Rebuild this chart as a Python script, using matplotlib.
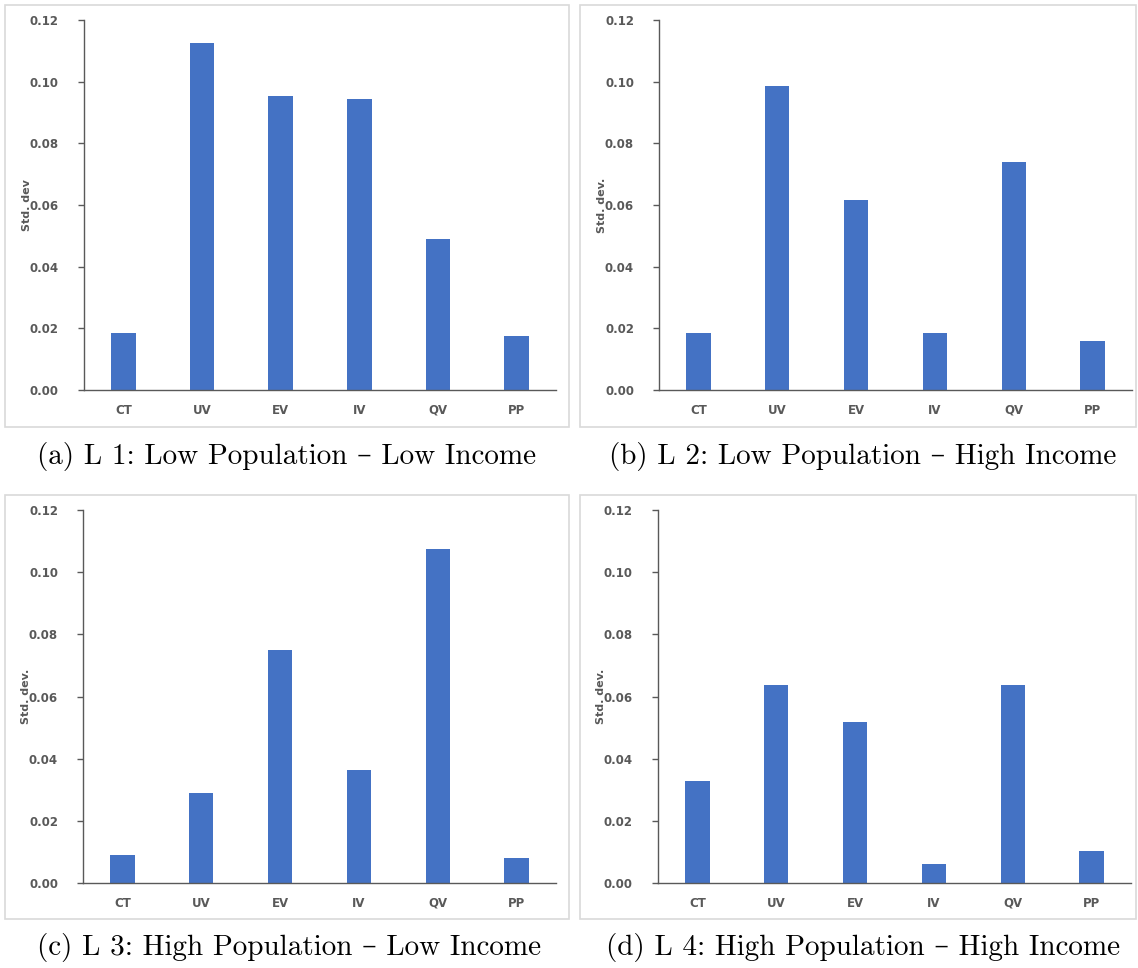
import matplotlib.pyplot as plt
from matplotlib.patches import Rectangle
from matplotlib.ticker import FormatStrFormatter

# standard deviation of each measure, per location group
measures = ['CT', 'UV', 'EV', 'IV', 'QV', 'PP']
l1_std = [0.0186, 0.1124, 0.0952, 0.0943, 0.0491, 0.0174]
l2_std = [0.0186, 0.0986, 0.0617, 0.0186, 0.0741, 0.0159]
l3_std = [0.0089, 0.0288, 0.0748, 0.0364, 0.1073, 0.0081]
l4_std = [0.0327, 0.0638, 0.0517, 0.0060, 0.0638, 0.0102]

captions = ['(a) L 1: Low Population \u2013 Low Income',
            '(b) L 2: Low Population \u2013 High Income',
            '(c) L 3: High Population \u2013 Low Income',
            '(d) L 4: High Population \u2013 High Income']
ylabels = ['Std. dev', 'Std. dev.', 'Std. dev.', 'Std. dev.']

W, H = 1138, 968
bar_color = '#4472C4'
axis_color = '#595959'

# pixel layout: axes box (left, right, top, bottom), frame box, caption centre
axes_px = [(84, 556, 20, 390), (659, 1132, 20, 390),
           (83, 556, 510, 883), (658, 1131, 510, 883)]
frame_px = [(5, 569, 5, 427), (580, 1136, 5, 427),
            (5, 569, 495, 919), (580, 1136, 495, 919)]
caption_px = [(287, 457), (863, 457), (289, 948), (863, 948)]

fig = plt.figure(figsize=(W / 100, H / 100), dpi=100)

for i, vals in enumerate([l1_std, l2_std, l3_std, l4_std]):
    l, r, t, b = axes_px[i]
    ax = fig.add_axes([l / W, 1 - b / H, (r - l) / W, (b - t) / H])
    ax.bar(range(len(measures)), vals, width=0.31, color=bar_color)
    ax.set_xlim(-0.5, len(measures) - 0.5)
    ax.set_ylim(0, 0.12)
    ax.set_yticks([0, 0.02, 0.04, 0.06, 0.08, 0.10, 0.12])
    ax.yaxis.set_major_formatter(FormatStrFormatter('%.2f'))
    ax.set_xticks(range(len(measures)))
    ax.set_xticklabels(measures)
    for s in ['top', 'right']:
        ax.spines[s].set_visible(False)
    for s in ['left', 'bottom']:
        ax.spines[s].set_color(axis_color)
        ax.spines[s].set_linewidth(1.0)
    ax.tick_params(axis='y', length=4, width=1.0, color=axis_color,
                   labelcolor=axis_color, labelsize=8.5, pad=14)
    ax.tick_params(axis='x', length=0, labelcolor=axis_color,
                   labelsize=8.5, pad=10)
    for lab in ax.get_xticklabels() + ax.get_yticklabels():
        lab.set_fontweight('bold')
    ax.set_ylabel(ylabels[i], fontsize=8, fontweight='bold', color=axis_color)
    ax.yaxis.set_label_coords(-52 / (r - l), 0.5)

    fl, fr, ft, fb = frame_px[i]
    fig.patches.append(Rectangle((fl / W, 1 - fb / H), (fr - fl) / W, (fb - ft) / H,
                                 transform=fig.transFigure, fill=False,
                                 edgecolor='#D9D9D9', linewidth=1.2))

    cx, cy = caption_px[i]
    fig.text(cx / W, 1 - cy / H, captions[i], ha='center', va='center',
             fontsize=21, family=['cmr10', 'DejaVu Serif'])

fig.savefig('out.png', dpi=100)
